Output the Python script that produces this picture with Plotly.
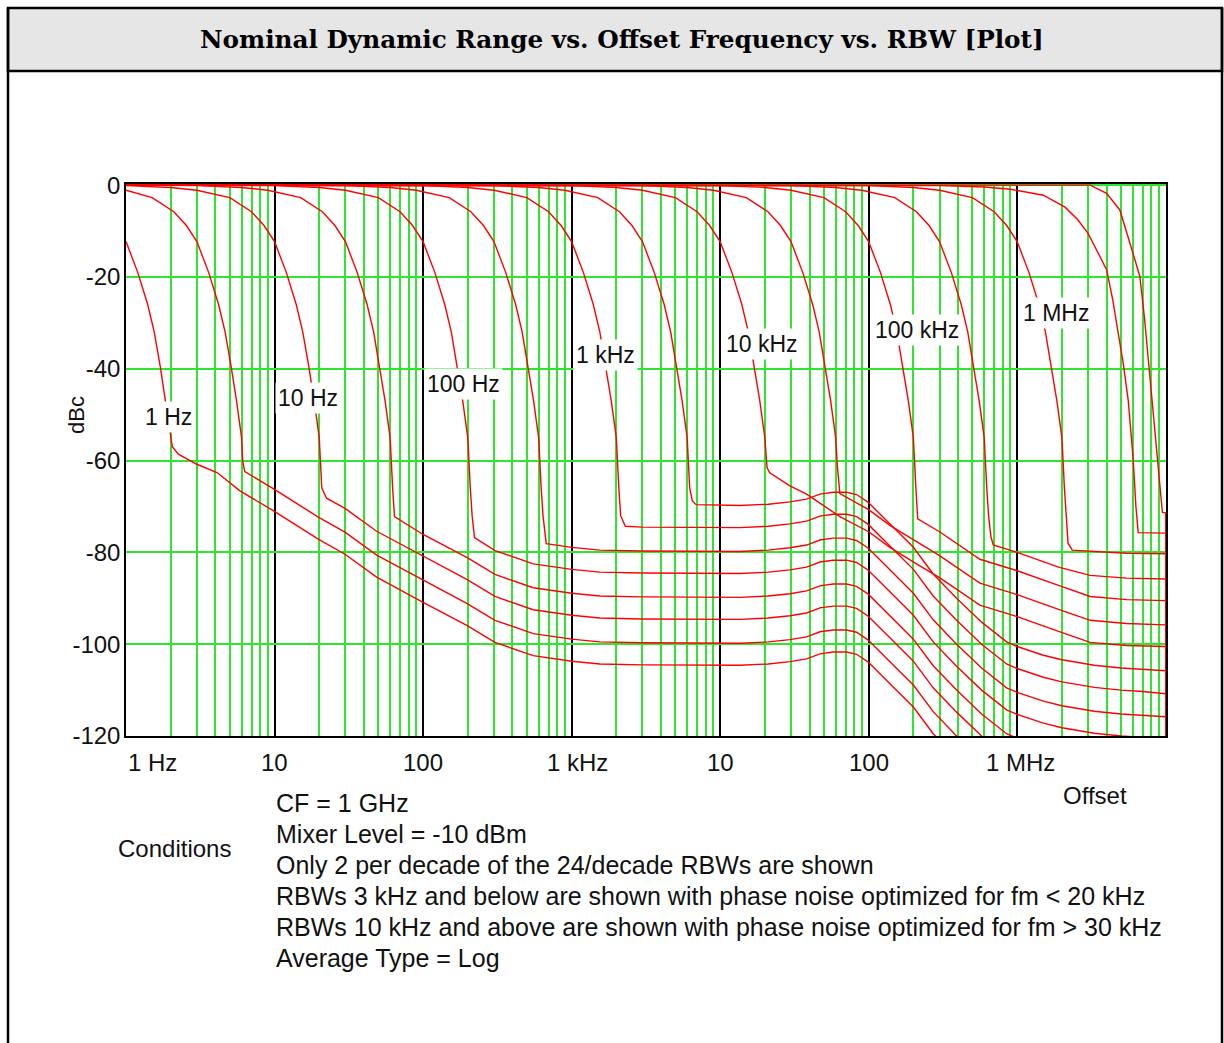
import plotly.graph_objects as go

# ---------------- data (offset in Hz, level in dBc) ----------------
rbw_names = ["1 Hz", "3 Hz", "10 Hz", "30 Hz", "100 Hz", "300 Hz", "1 kHz", "3 kHz",
             "10 kHz", "30 kHz", "100 kHz", "300 kHz", "1 MHz", "3 MHz", "8 MHz"]

f_1hz = [1, 1.2, 1.4, 1.55, 1.7, 1.85, 2.0, 2.05, 2.25, 3, 4.1, 5.85, 9.8, 19.7, 29.8, 48.7, 100, 197, 305, 552,
         1000, 1550, 3000, 13600, 21100, 29500, 38200, 47000, 57700, 71000, 83000, 99400, 139000, 200000, 272000, 391000]
db_1hz = [-12.3, -19.0, -26.0, -32.0, -39.5, -47.0, -54.0, -57.0, -58.6, -60.8, -62.6, -66.6, -70.9, -77.1, -80.4,
          -85.4, -90.9, -95.9, -99.6, -102.5, -103.7, -104.3, -104.5, -104.6, -104.3, -103.8, -103.2, -102.1, -101.7,
          -101.7, -102.2, -103.9, -108.6, -113.7, -119.5, -124.8]

f_3hz = [1, 1.5, 2.1, 2.55, 3, 3.6, 4.2, 4.65, 5.1, 5.55, 6.0, 6.1, 6.3, 9.8, 19.7, 29.8, 48.7, 100, 197, 305, 552,
         1000, 1550, 3000, 13600, 21100, 29500, 38200, 47000, 57700, 71000, 83000, 99400, 139000, 200000, 272000,
         391000, 576000]
db_3hz = [-1.1, -2.7, -5.8, -8.8, -12.3, -19.0, -26.0, -32.0, -39.5, -47.0, -55.0, -60.0, -62.4, -66.1, -72.3, -75.6,
          -80.6, -86.1, -91.1, -94.8, -97.7, -98.9, -99.5, -99.7, -99.8, -99.5, -99.0, -98.4, -97.3, -96.9, -96.9,
          -97.4, -99.1, -103.8, -108.9, -114.7, -120.0, -125.2]

f_10hz = [1, 2, 3, 5, 7, 8.5, 10, 12, 14, 15.5, 17, 18.5, 20, 20.3, 20.8, 22.4, 29.8, 48.7, 100, 197, 305, 552, 1000,
          1550, 3000, 13600, 21100, 29500, 38200, 47000, 57700, 71000, 83000, 99400, 139000, 200000, 272000, 391000,
          576000, 849000]
db_10hz = [-0.1, -0.5, -1.1, -2.7, -5.8, -8.8, -12.3, -19.0, -26.0, -32.0, -39.5, -47.0, -55.0, -60.0, -66.0, -68.2,
           -70.4, -75.4, -80.9, -85.9, -89.6, -92.5, -93.7, -94.3, -94.5, -94.6, -94.3, -93.8, -93.2, -92.1, -91.7,
           -91.7, -92.2, -93.9, -98.6, -103.7, -109.5, -114.8, -120.0, -124.3]

f_30hz = [1, 3, 6, 9, 15, 21, 25.5, 30, 36, 42, 46.5, 51, 55.5, 60, 60.9, 62.4, 64.2, 100, 197, 305, 552, 1000, 1550,
          3000, 13600, 21100, 29500, 38200, 47000, 57700, 71000, 83000, 99400, 139000, 200000, 272000, 391000, 576000,
          849000, 1e6, 1.5e6]
db_30hz = [0, -0.1, -0.5, -1.1, -2.7, -5.8, -8.8, -12.3, -19.0, -26.0, -32.0, -39.5, -47.0, -55.0, -60.0, -66.0,
           -72.2, -76.1, -81.1, -84.8, -87.7, -88.9, -89.5, -89.7, -89.8, -89.5, -89.0, -88.4, -87.3, -86.9, -86.9,
           -87.4, -89.1, -93.8, -98.9, -104.7, -110.0, -115.2, -119.5, -120.5, -122.4]

f_100hz = [1, 10, 20, 30, 50, 70, 85, 100, 120, 140, 155, 170, 185, 200, 203, 208, 214, 222, 305, 552, 1000, 1550,
           3000, 13600, 21100, 29500, 38200, 47000, 57700, 71000, 83000, 99400, 139000, 200000, 272000, 391000,
           576000, 849000, 1e6, 1.5e6, 2e6, 3.3e6, 5e6, 7e6, 1e7]
db_100hz = [0, -0.1, -0.5, -1.1, -2.7, -5.8, -8.8, -12.3, -19.0, -26.0, -32.0, -39.5, -47.0, -55.0, -60.0, -66.0,
            -72.0, -76.8, -79.6, -82.5, -83.7, -84.3, -84.5, -84.6, -84.3, -83.8, -83.2, -82.1, -81.7, -81.7, -82.2,
            -83.9, -88.6, -93.7, -99.5, -104.8, -110.0, -114.3, -115.3, -117.2, -118.2, -119.4, -120.0, -120.3, -120.6]

f_300hz = [1, 30, 60, 90, 150, 210, 255, 300, 360, 420, 465, 510, 555, 600, 609, 624, 642, 675, 1000, 1550, 3000,
           13600, 21100, 29500, 38200, 47000, 57700, 71000, 83000, 99400, 139000, 200000, 272000, 391000, 576000,
           849000, 1e6, 1.5e6, 2e6, 3.3e6, 5e6, 7e6, 1e7]
db_300hz = [0, -0.1, -0.5, -1.1, -2.7, -5.8, -8.8, -12.3, -19.0, -26.0, -32.0, -39.5, -47.0, -55.0, -60.0, -66.0,
            -72.0, -78.1, -78.9, -79.5, -79.7, -79.8, -79.5, -79.0, -78.4, -77.3, -76.9, -76.9, -77.4, -79.1, -83.8,
            -88.9, -94.7, -100.0, -105.2, -109.5, -110.5, -112.4, -113.4, -114.6, -115.2, -115.5, -115.8]

f_1khz = [1, 100, 200, 300, 500, 700, 850, 1000, 1200, 1400, 1550, 1700, 1850, 2000, 2030, 2080, 2140, 2300, 3000,
          13600, 21100, 29500, 38200, 47000, 57700, 71000, 83000, 99400, 139000, 200000, 272000, 391000, 576000,
          849000, 1e6, 1.5e6, 2e6, 3.3e6, 5e6, 7e6, 1e7]
db_1khz = [0, -0.1, -0.5, -1.1, -2.7, -5.8, -8.8, -12.3, -19.0, -26.0, -32.0, -39.5, -47.0, -55.0, -60.0, -66.0,
           -72.0, -74.3, -74.5, -74.6, -74.3, -73.8, -73.2, -72.1, -71.7, -71.7, -72.2, -73.9, -78.6, -83.7, -89.5,
           -94.8, -100.0, -104.3, -105.3, -107.2, -108.2, -109.4, -110.0, -110.3, -110.8]

f_3khz = [1, 300, 600, 900, 1500, 2100, 2550, 3000, 3600, 4200, 4650, 5100, 5550, 6000, 6090, 6240, 6500, 6900,
          13600, 21100, 29500, 38200, 47000, 57700, 71000, 83000, 99400, 139000, 200000, 272000, 391000, 576000,
          849000, 1e6, 1.5e6, 2e6, 3.3e6, 5e6, 7e6, 1e7]
db_3khz = [0, -0.1, -0.5, -1.1, -2.7, -5.8, -8.8, -12.3, -19.0, -26.0, -32.0, -39.5, -47.0, -55.0, -60.0, -66.0,
           -68.8, -69.6, -69.8, -69.5, -69.0, -68.4, -67.3, -66.9, -66.9, -67.4, -69.1, -73.8, -78.9, -84.7, -90.0,
           -95.2, -99.5, -100.5, -102.4, -103.4, -104.6, -105.2, -105.5, -105.8]

f_10khz = [1, 1000, 2000, 3000, 5000, 7000, 8500, 10000, 12000, 14000, 15500, 17000, 18500, 20000, 20700, 21500,
           29500, 38200, 64000, 100000, 139000, 210000, 300000, 561000, 1e6, 1.9e6, 3.1e6, 5.45e6, 1e7]
db_10khz = [0, -0.1, -0.5, -1.1, -2.7, -5.8, -8.8, -12.3, -19.0, -26.0, -32.0, -39.5, -47.0, -55.0, -61.5, -62.6,
            -65.5, -67.3, -72.2, -75.5, -78.9, -82.5, -85.5, -91.5, -94.0, -97.2, -99.6, -100.3, -100.5]

f_30khz = [1, 3000, 6000, 9000, 15000, 21000, 25500, 30000, 36000, 42000, 46500, 51000, 55500, 60000, 61500, 64000,
           100000, 139000, 210000, 300000, 561000, 1e6, 1.9e6, 3.1e6, 5.45e6, 1e7]
db_30khz = [0, -0.1, -0.5, -1.1, -2.7, -5.8, -8.8, -12.3, -19.0, -26.0, -32.0, -39.5, -47.0, -55.0, -61.0, -67.2,
            -70.7, -74.1, -77.7, -80.7, -86.7, -89.2, -92.4, -94.8, -95.5, -95.8]

f_100khz = [1, 10000, 20000, 30000, 50000, 70000, 85000, 100000, 120000, 140000, 155000, 170000, 185000, 200000,
            203000, 208000, 214000, 300000, 561000, 1e6, 1.9e6, 3.1e6, 5.45e6, 1e7]
db_100khz = [0, -0.1, -0.5, -1.1, -2.7, -5.8, -8.8, -12.3, -19.0, -26.0, -32.0, -39.5, -47.0, -55.0, -60.0, -66.0,
             -72.7, -75.5, -81.5, -84.0, -87.2, -89.6, -90.3, -90.5]

f_300khz = [1, 30000, 60000, 90000, 150000, 210000, 255000, 300000, 360000, 420000, 465000, 510000, 555000, 600000,
            609000, 624000, 642000, 665000, 690000, 1e6, 1.9e6, 3.1e6, 5.45e6, 1e7]
db_300khz = [0, -0.1, -0.5, -1.1, -2.7, -5.8, -8.8, -12.3, -19.0, -26.0, -32.0, -39.5, -47.0, -55.0, -60.0, -66.0,
             -72.0, -76.5, -78.4, -80.0, -83.2, -85.0, -85.6, -85.8]

f_1mhz = [1, 100000, 200000, 300000, 500000, 700000, 850000, 1e6, 1.2e6, 1.4e6, 1.55e6, 1.7e6, 1.85e6, 2.0e6,
          2.03e6, 2.08e6, 2.14e6, 2.2e6, 2.35e6, 3.3e6, 5.45e6, 1e7]
db_1mhz = [0, -0.1, -0.5, -1.1, -2.7, -5.8, -8.8, -12.3, -19.0, -26.0, -32.0, -39.5, -47.0, -55.0, -60.0, -66.0,
           -72.0, -78.0, -79.5, -79.8, -80.2, -80.3]

f_3mhz = [1, 300000, 600000, 900000, 1.5e6, 2.1e6, 2.55e6, 3.0e6, 3.6e6, 4.0e6, 4.4e6, 4.8e6, 5.17e6, 5.6e6,
          6.04e6, 6.3e6, 6.53e6, 1e7]
db_3mhz = [0, -0.1, -0.4, -0.9, -2.2, -4.8, -7.5, -10.5, -15.5, -18.4, -25.0, -32.0, -38.7, -47.0, -59.7, -70.0,
           -75.7, -75.8]

f_8mhz = [1, 3.1e6, 4.0e6, 4.91e6, 5.74e6, 6.7e6, 7.2e6, 7.82e6, 8.67e6, 9.5e6, 1e7, 1e7]
db_8mhz = [0, 0, -1.8, -5.4, -12.6, -19.9, -29.0, -41.6, -56.1, -71.3, -71.4, -130.0]

curves_f = [f_1hz, f_3hz, f_10hz, f_30hz, f_100hz, f_300hz, f_1khz, f_3khz,
            f_10khz, f_30khz, f_100khz, f_300khz, f_1mhz, f_3mhz, f_8mhz]
curves_db = [db_1hz, db_3hz, db_10hz, db_30hz, db_100hz, db_300hz, db_1khz, db_3khz,
             db_10khz, db_30khz, db_100khz, db_300khz, db_1mhz, db_3mhz, db_8mhz]

# labels written on the curves
label_text = ["1 Hz", "10 Hz", "100 Hz", "1 kHz", "10 kHz", "100 kHz", "1 MHz"]
label_logf = [0.283, 1.225, 2.275, 3.231, 4.282, 5.325, 6.261]
label_db = [-50.5, -46.4, -43.3, -37.0, -34.7, -31.6, -27.9]

# axis ticks
x_tick_logf = [0, 1, 2, 3, 4, 5, 6]
x_tick_text = ["1 Hz", "10", "100", "1 kHz", "10", "100", "1 MHz"]
y_tick_vals = [0, -20, -40, -60, -80, -100, -120]
y_tick_text = ["0", "-20", "-40", "-60", "-80", "-100", "-120"]

conditions = ["CF = 1 GHz",
              "Mixer Level = -10 dBm",
              "Only 2 per decade of the 24/decade RBWs are shown",
              "RBWs 3 kHz and below are shown with phase noise optimized for fm < 20 kHz",
              "RBWs 10 kHz and above are shown with phase noise optimized for fm > 30 kHz",
              "Average Type = Log"]

title_text = "Nominal Dynamic Range vs. Offset Frequency vs. RBW [Plot]"

# ---------------- layout geometry ----------------
W, H = 1224, 1043
L, R, T, B = 126, 58, 184, 307
PW, PH = W - L - R, H - T - B


def px(x):
    return (x - L) / PW


def py(y):
    return (H - B - y) / PH


SANS = "Liberation Sans, Arial, sans-serif"
GREEN = "#2ee62e"
TXT = "#111111"

fig = go.Figure()
for name, fx, fy in zip(rbw_names, curves_f, curves_db):
    fig.add_trace(go.Scatter(x=fx, y=fy, mode="lines", name=name,
                             line=dict(color="#ff0000", width=1.4), hoverinfo="name+x+y"))

annotations = []
for t, lx, ly in zip(label_text, label_logf, label_db):
    annotations.append(dict(x=lx, y=ly, xref="x", yref="y", text=t, showarrow=False,
                            xanchor="center", yanchor="middle",
                            font=dict(family=SANS, size=23, color=TXT),
                            bgcolor="white", borderpad=2))

for i, (lx, t) in enumerate(zip(x_tick_logf, x_tick_text)):
    shift = 0
    anchor = "center"
    if i == 0:
        anchor = "left"
    if t == "1 kHz":
        shift = 6
    if t == "1 MHz":
        shift = 3
    annotations.append(dict(x=lx, y=py(762), xref="x", yref="paper", text=t, showarrow=False,
                            xanchor=anchor, yanchor="middle", xshift=shift,
                            font=dict(family=SANS, size=24, color=TXT)))


def free_text(x, y, text, size=25, anchor="center", **kw):
    return dict(x=px(x), y=py(y), xref="paper", yref="paper", text=text, showarrow=False,
                xanchor=anchor, yanchor="middle", font=dict(family=kw.pop("family", SANS), size=size,
                                                            color=kw.pop("color", TXT)), **kw)


annotations.append(free_text(76, 415, "dBc", size=22, textangle=-90))
annotations.append(free_text(1095, 795, "Offset", size=24))
annotations.append(free_text(174, 848, "Conditions", size=24))
for k, line in enumerate(conditions):
    annotations.append(free_text(274, 803 + 31 * k, line, size=25, anchor="left"))
annotations.append(free_text(622, 40, "<b>" + title_text + "</b>", size=24.7,
                             family="DejaVu Serif, serif", color="#000000"))

shapes = [
    dict(type="rect", xref="paper", yref="paper", x0=px(8), x1=px(1222), y0=py(8), y1=py(71),
         fillcolor="#e6e6e6", line=dict(color="black", width=2.5), layer="below"),
    dict(type="line", xref="paper", yref="paper", x0=px(8), x1=px(8), y0=py(8), y1=py(1060),
         line=dict(color="black", width=2.5)),
    dict(type="line", xref="paper", yref="paper", x0=px(1222), x1=px(1222), y0=py(8), y1=py(1060),
         line=dict(color="black", width=2.5)),
]

fig.update_layout(
    width=W, height=H, margin=dict(l=L, r=R, t=T, b=B, pad=0),
    paper_bgcolor="white", plot_bgcolor="white", showlegend=False,
    annotations=annotations, shapes=shapes,
    xaxis=dict(type="log", range=[0, 7.002], dtick=1, showgrid=True, gridcolor="#000000", gridwidth=1.5,
               showticklabels=False, ticks="", zeroline=False, showline=True, mirror=True,
               linecolor="black", linewidth=1.5, layer="below traces",
               minor=dict(dtick="D1", showgrid=True, gridcolor=GREEN, gridwidth=1.8, ticks="")),
    yaxis=dict(range=[-120, 0.25], tickvals=y_tick_vals, ticktext=y_tick_text, showgrid=True,
               gridcolor=GREEN, gridwidth=1.8, zeroline=False, showline=True, mirror=True,
               linecolor="black", linewidth=1.5, layer="below traces", ticks="",
               ticklabelstandoff=-1, tickfont=dict(family=SANS, size=24, color=TXT)),
)

fig.write_html("out.html", config={"displayModeBar": False},
               post_script="document.body.style.margin='0px';")
